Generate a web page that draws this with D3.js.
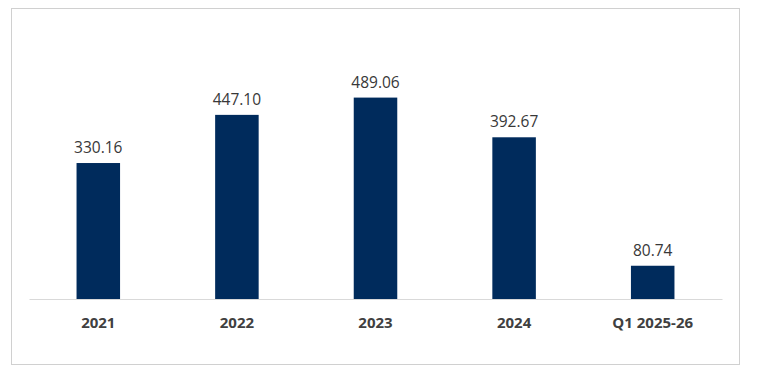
<!DOCTYPE html>
<html>
<head>
<meta charset="utf-8">
<script src="https://cdn.jsdelivr.net/npm/d3@7"></script>
<style>
  body { margin: 0; background: #fff; }
</style>
</head>
<body>
<div id="chart"></div>
<script>
// categories and values
var categories = ["2021", "2022", "2023", "2024", "Q1 2025-26"];
var values = [330.16, 447.10, 489.06, 392.67, 80.74];

const chartWidth = 758;
const chartHeight = 371;

var svg = d3.select("#chart")
            .append("svg")
            .attr("width", chartWidth)
            .attr("height", chartHeight);

// outer frame
svg.append("rect")
  .attr("x", 11.5)
  .attr("y", 8.5)
  .attr("width", 728)
  .attr("height", 356)
  .style("fill", "#fff")
  .style("stroke", "#d0d0d0")
  .style("stroke-width", 1);

var xScale = d3.scaleBand()
              .domain(categories)
              .range([29, 722])
              .paddingInner(0.686)
              .paddingOuter(0.343);

var yScale = d3.scaleLinear()
              .domain([0, 600])
              .range([299, 51.9]);

svg.selectAll("rect.bar")
  .data(values)
  .enter()
  .append("rect")
  .attr("class", "bar")
  .attr("x", function(d, i) { return xScale(categories[i]); })
  .attr("y", function(d) { return yScale(d); })
  .attr("width", xScale.bandwidth())
  .attr("height", function(d) { return yScale(0) - yScale(d); })
  .style("fill", "#002b5c");

// value labels
svg.selectAll("text.val")
  .data(values)
  .enter()
  .append("text")
  .attr("class", "val")
  .attr("x", function(d, i) { return xScale(categories[i]) + xScale.bandwidth() / 2; })
  .attr("y", function(d) { return yScale(d) - 10; })
  .style("text-anchor", "middle")
  .style("font-family", "'Open Sans', sans-serif")
  .style("font-size", "15.5px")
  .style("fill", "#383838")
  .text(function(d) { return d3.format(".2f")(d); });

// x axis
var xAxis = d3.axisBottom()
            .scale(xScale)
            .tickSize(0)
            .tickPadding(18);

var gx = svg.append("g")
  .attr("transform", "translate(0," + yScale(0) + ")")
  .call(xAxis);

gx.select(".domain")
  .attr("stroke", "#d9d9d9");

gx.selectAll("text")
  .style("font-family", "'Open Sans', sans-serif")
  .style("font-size", "15px")
  .style("font-weight", "bold")
  .style("fill", "#404040");
</script>
</body>
</html>
